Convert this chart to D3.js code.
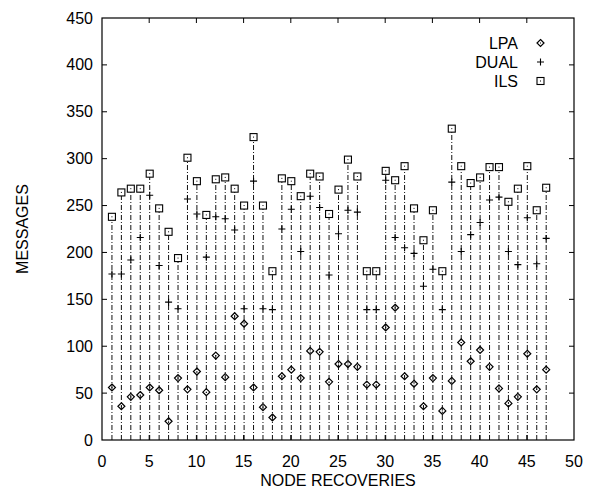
<!DOCTYPE html>
<html>
<head>
<meta charset="utf-8">
<script src="https://cdn.jsdelivr.net/npm/d3@7"></script>
<style>
    body { margin: 0; background: #fff; }
    text { font-family: "Liberation Sans", Arial, sans-serif; fill: #000; }
</style>
</head>
<body>
<div id="chart"></div>
<script>
// Values (node recovery 1..47)
const recoveries = d3.range(1, 48);
const lpa = [56, 36, 46, 48, 56, 53, 20, 66, 54, 73, 51, 90, 67, 132, 124, 56, 35, 24, 68, 75,
    66, 95, 94, 62, 81, 81, 78, 59, 59, 120, 141, 68, 60, 36, 66, 31, 63, 104, 84, 96,
    78, 55, 39, 46, 92, 54, 75];
const dual = [177, 177, 192, 216, 261, 186, 147, 140, 257, 241, 195, 238, 236, 224, 140, 276, 140, 139, 225, 246,
    201, 260, 248, 176, 220, 245, 243, 139, 139, 277, 216, 205, 199, 164, 182, 139, 275, 201, 219, 232,
    256, 259, 201, 187, 237, 188, 215];
const ils = [238, 264, 268, 268, 284, 247, 222, 194, 301, 276, 240, 278, 280, 268, 250, 323, 250, 180, 279, 276,
    260, 284, 281, 241, 267, 299, 281, 180, 180, 287, 277, 292, 247, 213, 245, 180, 332, 292, 274, 280,
    291, 291, 254, 268, 292, 245, 269];
const xTicks = [0, 5, 10, 15, 20, 25, 30, 35, 40, 45, 50];
const yTicks = [0, 50, 100, 150, 200, 250, 300, 350, 400, 450];
const seriesNames = ["LPA", "DUAL", "ILS"];

const margin = {top: 18, right: 16, bottom: 53, left: 102},
      width = 590 - margin.left - margin.right,
      height = 493 - margin.top - margin.bottom;

const svg = d3.select("#chart").append("svg")
    .attr("width", width + margin.left + margin.right)
    .attr("height", height + margin.top + margin.bottom)
    .append("g")
    .attr("transform", `translate(${margin.left},${margin.top})`);

const x = d3.scaleLinear().domain([0, 50]).range([0, width]);
const y = d3.scaleLinear().domain([0, 450]).range([height, 0]);

// Impulses from 0 up to the ILS value
svg.selectAll("line.impulse")
    .data(recoveries)
    .enter()
    .append("line")
    .attr("class", "impulse")
    .attr("x1", d => x(d) + 0.5)
    .attr("x2", d => x(d) + 0.5)
    .attr("y1", y(0))
    .attr("y2", (d, i) => y(ils[i]))
    .attr("stroke", "#111")
    .attr("stroke-width", 1)
    .attr("stroke-dasharray", "5,2,1,2");

// Frame and inward ticks (gnuplot style, mirrored)
svg.append("rect")
    .attr("width", width).attr("height", height)
    .attr("fill", "none").attr("stroke", "#000").attr("stroke-width", 1.2);

const tickLen = 5;
xTicks.slice(1, -1).forEach(t => {
    svg.append("line").attr("x1", x(t)).attr("x2", x(t)).attr("y1", height).attr("y2", height - tickLen).attr("stroke", "#000");
    svg.append("line").attr("x1", x(t)).attr("x2", x(t)).attr("y1", 0).attr("y2", tickLen).attr("stroke", "#000");
});
yTicks.slice(1, -1).forEach(t => {
    svg.append("line").attr("x1", 0).attr("x2", tickLen).attr("y1", y(t)).attr("y2", y(t)).attr("stroke", "#000");
    svg.append("line").attr("x1", width).attr("x2", width - tickLen).attr("y1", y(t)).attr("y2", y(t)).attr("stroke", "#000");
});

// Tick labels
svg.selectAll("text.xtick")
    .data(xTicks)
    .enter()
    .append("text")
    .attr("class", "xtick")
    .attr("x", d => x(d))
    .attr("y", height + 27)
    .attr("text-anchor", "middle")
    .attr("font-size", 16)
    .text(d => d);

svg.selectAll("text.ytick")
    .data(yTicks)
    .enter()
    .append("text")
    .attr("class", "ytick")
    .attr("x", -9)
    .attr("y", d => y(d) + 5.5)
    .attr("text-anchor", "end")
    .attr("font-size", 16)
    .text(d => d);

// Axis titles
svg.append("text")
    .attr("x", width / 2)
    .attr("y", height + 46)
    .attr("text-anchor", "middle")
    .attr("font-size", 16)
    .text("NODE RECOVERIES");

svg.append("text")
    .attr("transform", `translate(${-74},${height / 2}) rotate(-90)`)
    .attr("text-anchor", "middle")
    .attr("font-size", 16)
    .text("MESSAGES");

// Point symbols
function diamond(g, cx, cy) {
    g.append("path")
        .attr("d", `M${cx},${cy - 3.5}L${cx + 3.5},${cy}L${cx},${cy + 3.5}L${cx - 3.5},${cy}Z`)
        .attr("fill", "none").attr("stroke", "#000").attr("stroke-width", 1.2);
    g.append("rect").attr("x", cx - 0.5).attr("y", cy - 0.5).attr("width", 1).attr("height", 1).attr("fill", "#000");
}
function plus(g, cx, cy) {
    g.append("path")
        .attr("d", `M${cx - 3.5},${cy}H${cx + 3.5}M${cx},${cy - 3.5}V${cy + 3.5}`)
        .attr("stroke", "#000").attr("stroke-width", 1.1);
}
function square(g, cx, cy) {
    g.append("rect")
        .attr("x", cx - 3.5).attr("y", cy - 3.5).attr("width", 7).attr("height", 7)
        .attr("fill", "#fff").attr("stroke", "#000").attr("stroke-width", 1.1);
    g.append("rect").attr("x", cx - 0.5).attr("y", cy - 0.5).attr("width", 1).attr("height", 1).attr("fill", "#000");
}
const symbols = [diamond, plus, square];
const series = [lpa, dual, ils];

const points = svg.append("g");
series.forEach((values, s) => {
    values.forEach((v, i) => symbols[s](points, x(recoveries[i]) + 0.5, y(v)));
});

// Legend
const legend = svg.append("g");
seriesNames.forEach((name, i) => {
    const ly = 25 + i * 19;
    legend.append("text")
        .attr("x", 416)
        .attr("y", ly + 5.5)
        .attr("text-anchor", "end")
        .attr("font-size", 16)
        .text(name);
    symbols[i](legend, 438.5, ly);
});
</script>
</body>
</html>
